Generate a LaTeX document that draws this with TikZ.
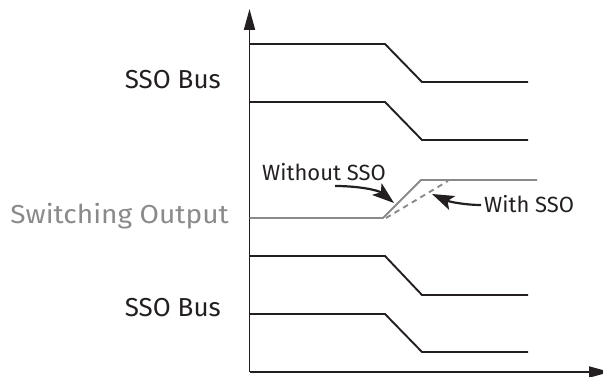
\documentclass[tikz,border=0pt]{standalone}
\usepackage{fontspec}
\setmainfont{Fira Sans}
\usetikzlibrary{arrows.meta}
\definecolor{ink}{HTML}{231F20}
\definecolor{sgray}{HTML}{8A8A8A}
\tikzset{
  wave/.style={draw=ink, line width=1.9pt, line join=miter},
  gwave/.style={draw=sgray, line width=1.9pt},
  axis/.style={draw=ink, line width=1.9pt, -{Triangle[length=21pt,width=11pt]}},
  biglabel/.style={font=\fontsize{26}{30}\selectfont, text=ink, inner sep=0pt, anchor=base east},
  smalllabel/.style={font=\fontsize{22}{26}\selectfont, text=ink, inner sep=0pt, anchor=base west},
  callout/.style={draw=ink, line width=2.2pt, -{Stealth[length=22pt,width=15pt,inset=5pt]}}
}
\begin{document}
\begin{tikzpicture}[x=1pt,y=-1pt]
\useasboundingbox (0,0) rectangle (603,377);
% axes
\coordinate (o) at (249.5,372);
\coordinate (ytop) at (249.5,9);
\coordinate (xend) at (610,372);
\draw[axis] (o) -- (ytop);
\draw[axis] (249.5,372) -- (xend);
% bus waveforms
\draw[wave] (249.5,44) -- (385,44) -- (422,82) -- (528,82);
\draw[wave] (249.5,102) -- (385,102) -- (422,140) -- (528,140);
\draw[wave] (249.5,256) -- (385,256) -- (422,295) -- (528,295);
\draw[wave] (249.5,314) -- (385,314) -- (422,352) -- (528,352);
% switching output
\draw[gwave] (249.5,218) -- (383,218) -- (421,180) -- (537,180);
\draw[gwave, dash pattern=on 5.5pt off 4.5pt] (386,218) -- (448,181);
% labels
\node[biglabel] (bus1) at (221,89) {SSO Bus};
\node[biglabel, text=sgray, xscale=1.08] (sw) at (229,223) {Switching Output};
\node[biglabel] (bus2) at (221,316) {SSO Bus};
\node[smalllabel] (wo) at (262,181) {Without SSO};
\node[smalllabel] (wi) at (484,212) {With SSO};
% callouts
\coordinate (wotip) at (394,203);
\coordinate (witip) at (432,194);
\draw[callout] (335,186) .. controls (358,186) and (378,190) .. (wotip);
\draw[callout] (481,205) .. controls (466,205) and (450,202) .. (witip);
\end{tikzpicture}
\end{document}
